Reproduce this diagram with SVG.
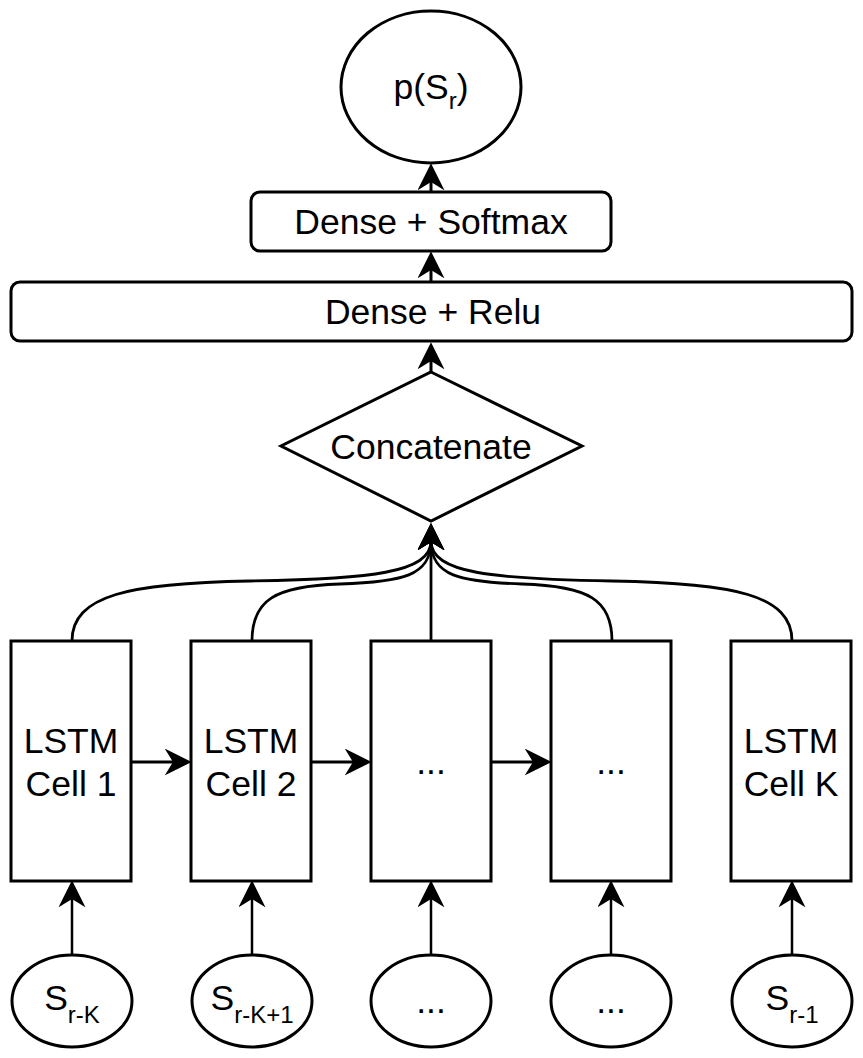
<svg xmlns="http://www.w3.org/2000/svg" width="863" height="1058" viewBox="0 0 863 1058">
  <style>
    .shape { fill: #ffffff; stroke: #000000; stroke-width: 3; }
    .lbl { font-family: "Liberation Sans", Arial, Helvetica, sans-serif; font-size: 35.5px; fill: #000000; text-anchor: middle; }
    .sub { font-size: 24px; }
    .conn { fill: none; stroke: #000000; stroke-width: 3; }
    .curve { fill: none; stroke: #000000; stroke-width: 2.8; }
    .thin { fill: none; stroke: #000000; stroke-width: 2.5; }
  </style>
  <defs>
    <marker id="ah" markerUnits="userSpaceOnUse" markerWidth="27" markerHeight="27" viewBox="0 0 26 26" refX="9" refY="13" orient="auto">
      <path d="M26 13 L0 0 L8 13 L0 26 Z" fill="#000000"/>
    </marker>
  </defs>
  <rect width="863" height="1058" fill="#ffffff"/>

  <g id="connectors">
    <path class="conn" d="M431 192 L431 181" marker-end="url(#ah)"/>
    <path class="conn" d="M431 281 L431 269" marker-end="url(#ah)"/>
    <path class="conn" d="M431 372 L431 360" marker-end="url(#ah)"/>
    <path class="curve" d="M72 641 C72 595 130 583 250 581 C370 579 431 573 431 541" marker-end="url(#ah)"/>
    <path class="curve" d="M252 641 C252 600 275 586 340 584 C402 582 431 576 431 541" marker-end="url(#ah)"/>
    <path class="curve" d="M431 641 L431 541" marker-end="url(#ah)"/>
    <path class="curve" d="M612 641 C612 600 589 586 522 584 C460 582 431 576 431 541" marker-end="url(#ah)"/>
    <path class="curve" d="M792 641 C792 595 734 583 612 581 C492 579 431 573 431 541" marker-end="url(#ah)"/>
    <path class="conn" d="M131 762 L174 762" marker-end="url(#ah)"/>
    <path class="conn" d="M311 762 L354 762" marker-end="url(#ah)"/>
    <path class="conn" d="M491 762 L534 762" marker-end="url(#ah)"/>
    <path class="thin" d="M72 955 L72 898" marker-end="url(#ah)"/>
    <path class="thin" d="M252 955 L252 898" marker-end="url(#ah)"/>
    <path class="thin" d="M431 955 L431 898" marker-end="url(#ah)"/>
    <path class="thin" d="M611 955 L611 898" marker-end="url(#ah)"/>
    <path class="thin" d="M792 955 L792 898" marker-end="url(#ah)"/>
  </g>

  <g id="output">
    <ellipse class="shape" cx="431" cy="87" rx="90" ry="76"/>
    <text class="lbl" x="431" y="99">p(S<tspan class="sub" dy="10">r</tspan><tspan dy="-10">)</tspan></text>
  </g>

  <g id="dense-softmax">
    <rect class="shape" x="251" y="192" width="360" height="59" rx="9" ry="9"/>
    <text class="lbl" x="431" y="234">Dense + Softmax</text>
  </g>

  <g id="dense-relu">
    <rect class="shape" x="11" y="282" width="841" height="59" rx="9" ry="9"/>
    <text class="lbl" x="433" y="324">Dense + Relu</text>
  </g>

  <g id="concatenate">
    <polygon class="shape" points="431,372 582,446 431,521 281,446"/>
    <text class="lbl" x="431" y="459">Concatenate</text>
  </g>

  <g id="lstm1">
    <rect class="shape" x="11" y="641" width="120" height="240"/>
    <text class="lbl" x="71" y="753">LSTM</text>
    <text class="lbl" x="71" y="796">Cell 1</text>
  </g>
  <g id="lstm2">
    <rect class="shape" x="191" y="641" width="120" height="240"/>
    <text class="lbl" x="251" y="753">LSTM</text>
    <text class="lbl" x="251" y="796">Cell 2</text>
  </g>
  <g id="lstm3">
    <rect class="shape" x="371" y="641" width="120" height="240"/>
    <text class="lbl" x="431" y="774">...</text>
  </g>
  <g id="lstm4">
    <rect class="shape" x="551" y="641" width="120" height="240"/>
    <text class="lbl" x="611" y="774">...</text>
  </g>
  <g id="lstmK">
    <rect class="shape" x="731" y="641" width="120" height="240"/>
    <text class="lbl" x="791" y="753">LSTM</text>
    <text class="lbl" x="791" y="796">Cell K</text>
  </g>

  <g id="in1">
    <ellipse class="shape" cx="72" cy="1001" rx="60" ry="46"/>
    <text class="lbl" x="72" y="1010">S<tspan class="sub" dy="13">r-K</tspan></text>
  </g>
  <g id="in2">
    <ellipse class="shape" cx="252" cy="1001" rx="60" ry="46"/>
    <text class="lbl" x="252" y="1010">S<tspan class="sub" dy="13">r-K+1</tspan></text>
  </g>
  <g id="in3">
    <ellipse class="shape" cx="431" cy="1001" rx="60" ry="46"/>
    <text class="lbl" x="431" y="1013">...</text>
  </g>
  <g id="in4">
    <ellipse class="shape" cx="611" cy="1001" rx="60" ry="46"/>
    <text class="lbl" x="611" y="1013">...</text>
  </g>
  <g id="inK">
    <ellipse class="shape" cx="792" cy="1001" rx="60" ry="46"/>
    <text class="lbl" x="792" y="1010">S<tspan class="sub" dy="13">r-1</tspan></text>
  </g>
</svg>
